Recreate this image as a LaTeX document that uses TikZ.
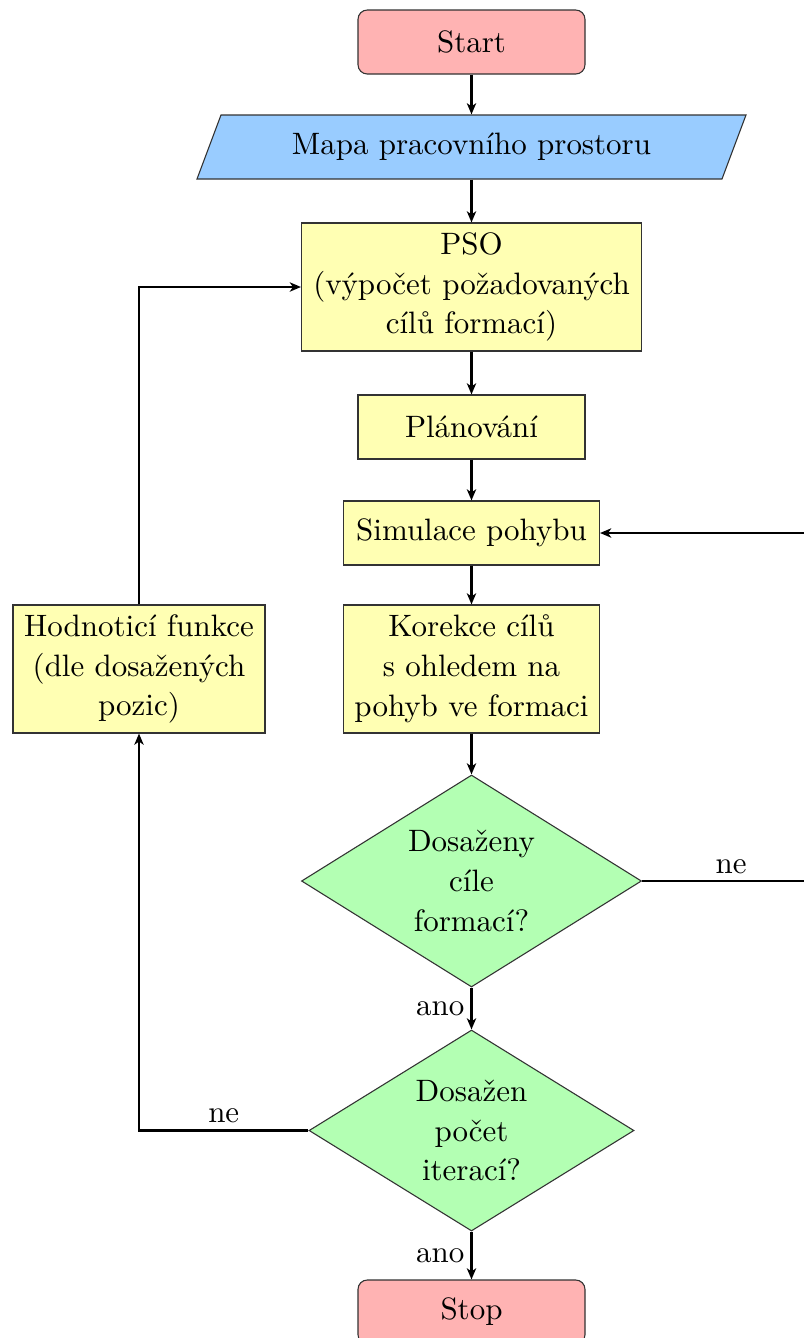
\documentclass[tikz,border=0pt]{standalone}
\usetikzlibrary{shapes.geometric,arrows.meta}
\definecolor{cpink}{RGB}{255,179,179}
\definecolor{cblue}{RGB}{153,204,255}
\definecolor{cyell}{RGB}{255,255,179}
\definecolor{cgreen}{RGB}{179,255,179}
\def\pxu{0.323pt}
\begin{document}
\begin{tikzpicture}[x=0.323pt,y=-0.323pt,
  every node/.style={font=\fontsize{10}{12.9}\selectfont},
  base/.style={draw=black!80,line width=0.35pt,inner sep=0pt,align=center},
  term/.style={base,rectangle,rounded corners=3pt,fill=cpink,minimum width=227*\pxu,minimum height=64*\pxu},
  iofill/.style={draw=black!80,line width=0.35pt,fill=cblue},
  proc/.style={base,rectangle,fill=cyell},
  dec/.style={base,diamond,fill=cgreen,aspect=1.6},
  arr/.style={line width=0.68pt,-{Stealth[length=3.6pt,width=3pt,inset=1pt]}},
  lbl/.style={inner sep=2pt}]
\useasboundingbox (0,0) rectangle (804,1338);
\node[term] (start) at (471.5,42) {Start};
\draw[iofill] (221,115) -- (746,115) -- (722,179) -- (197,179) -- cycle;
\node[inner sep=0pt,minimum width=525*\pxu,minimum height=64*\pxu] (map) at (471.5,147) {Mapa pracovního prostoru};
\node[proc,minimum width=340*\pxu,minimum height=128*\pxu] (pso) at (471.5,287) {PSO\\(výpočet požadovaných\\cílů formací)};
\node[proc,minimum width=227*\pxu,minimum height=64*\pxu] (plan) at (471.5,427) {Plánování};
\node[proc,minimum width=256*\pxu,minimum height=64*\pxu] (sim) at (471.5,533) {Simulace pohybu};
\node[proc,minimum width=256*\pxu,minimum height=128*\pxu] (kor) at (471.5,669) {Korekce cílů\\s ohledem na\\pohyb ve formaci};
\node[proc,minimum width=252*\pxu,minimum height=128*\pxu] (hod) at (139,669) {Hodnoticí funkce\\(dle dosažených\\pozic)};
\node[dec,minimum width=340*\pxu,minimum height=212*\pxu] (d1) at (471.5,881) {Dosaženy\\cíle\\formací?};
\node[dec,minimum width=325*\pxu,minimum height=201*\pxu] (d2) at (471.5,1130.5) {Dosažen\\počet\\iterací?};
\node[term] (stop) at (471.5,1312) {Stop};
\coordinate (r) at (810,881);
\coordinate (l) at (139,1130.5);
\draw[arr] (start) -- (map);
\draw[arr] (map) -- (pso);
\draw[arr] (pso) -- (plan);
\draw[arr] (plan) -- (sim);
\draw[arr] (sim) -- (kor);
\draw[arr] (kor) -- (d1);
\draw[arr] (d1) -- node[lbl,left]{ano} (d2);
\draw[arr] (d2) -- node[lbl,left]{ano} (stop);
\draw[arr] (d1.east) -- node[lbl,above,pos=0.53]{ne} (r) |- (sim.east);
\draw[arr] (d2.west) -- node[lbl,above]{ne} (l) -- (hod.south);
\draw[arr] (hod.north) |- (pso.west);
\end{tikzpicture}
\end{document}
